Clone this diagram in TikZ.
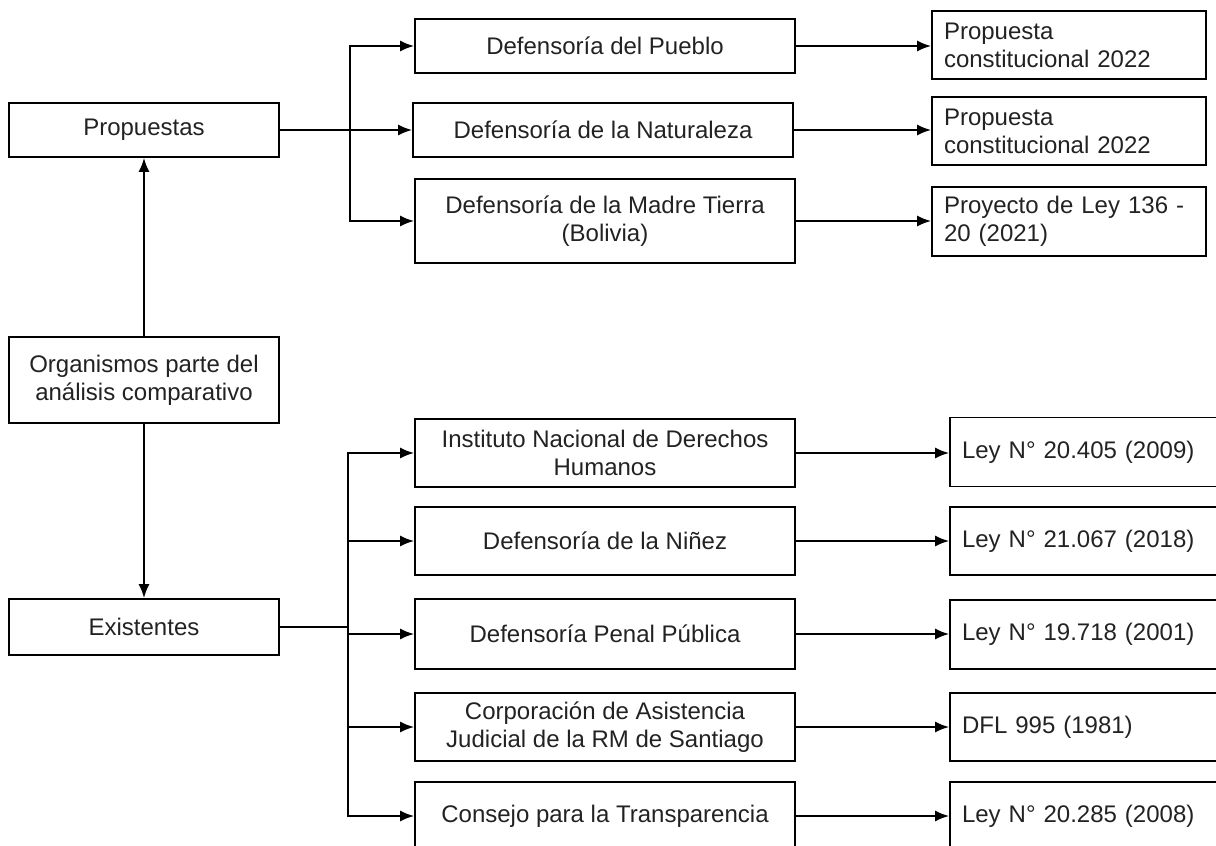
\documentclass[tikz,border=0pt]{standalone}
\usepackage{fontspec}
\setmainfont{Liberation Sans}
\usepackage{tikz}
\usetikzlibrary{arrows.meta}
\definecolor{BoxText}{HTML}{222222}

\begin{document}
\begin{tikzpicture}[x=0.5pt,y=-0.5pt,>={Latex[length=7pt,width=5.5pt]},font=\fontsize{12}{14}\selectfont]
\tikzstyle{block}=[rectangle,draw=black,line width=0.9pt,text=BoxText,align=center,inner sep=0pt]
\tikzstyle{side}=[block,minimum width=135pt]
\tikzstyle{item}=[block,minimum width=190pt]
\tikzstyle{norma}=[rectangle,draw=black,line width=0.9pt,text=BoxText,align=left,text width=125pt,inner xsep=6pt,inner ysep=0pt]
\tikzstyle{link}=[->,line width=0.9pt]
\useasboundingbox (0,0) rectangle (1216,846);
\clip (0,0) rectangle (1216,846);
\node[side,minimum height=27pt] (prop) at (144,130) {Propuestas};
\node[side,minimum height=43pt] (org) at (144,380) {Organismos parte del\\análisis comparativo};
\node[side,minimum height=28pt] (exist) at (144,627) {Existentes};
\node[item,minimum height=27pt] (pueblo) at (605,46) {Defensoría del Pueblo};
\node[item,minimum height=27pt] (natur) at (603,130) {Defensoría de la Naturaleza};
\node[item,minimum height=42pt] (madre) at (605,221) {Defensoría de la Madre Tierra\\(Bolivia)};
\node[item,minimum height=34pt] (inst) at (605,453) {Instituto Nacional de Derechos\\Humanos};
\node[item,minimum height=34pt] (ninez) at (605,541) {Defensoría de la Niñez};
\node[item,minimum height=35pt] (penal) at (605,634) {Defensoría Penal Pública};
\node[item,minimum height=34pt] (corp) at (605,727) {Corporación de Asistencia\\Judicial de la RM de Santiago};
\node[item,minimum height=34pt] (consejo) at (605,816) {Consejo para la Transparencia};
\node[norma,minimum height=34pt] (cons1) at (1069,45) {Propuesta\\constitucional 2022};
\node[norma,minimum height=34pt] (cons2) at (1069,131) {Propuesta\\constitucional 2022};
\node[norma,minimum height=34.5pt] (pley) at (1069,221.5) {Proyecto de Ley 136 -\\20 (2021)};
\node[norma,minimum height=34.5pt] (ley1) at (1087,452) {Ley N° 20.405 (2009)};
\node[norma,minimum height=34pt] (ley2) at (1087,541) {Ley N° 21.067 (2018)};
\node[norma,minimum height=34.5pt] (ley3) at (1087,634.5) {Ley N° 19.718 (2001)};
\node[norma,minimum height=34pt] (dfl) at (1087,727) {DFL 995 (1981)};
\node[norma,minimum height=34pt] (ley4) at (1087,816) {Ley N° 20.285 (2008)};
\draw[link] (org) -- (prop);
\draw[link] (org) -- (exist);
\draw[link] (prop.east) -- ++(70,0) |- (pueblo.west);
\draw[link] (prop.east) -- (natur.west);
\draw[link] (prop.east) -- ++(70,0) |- (madre.west);
\draw[link] (exist.east) -- ++(68,0) |- (inst.west);
\draw[link] (exist.east) -- ++(68,0) |- (ninez.west);
\draw[link] (exist.east) -- ++(68,0) |- (penal.west);
\draw[link] (exist.east) -- ++(68,0) |- (corp.west);
\draw[link] (exist.east) -- ++(68,0) |- (consejo.west);
\draw[link] (pueblo.east) -- (pueblo.east -| cons1.west);
\draw[link] (natur.east) -- (natur.east -| cons2.west);
\draw[link] (madre.east) -- (madre.east -| pley.west);
\draw[link] (inst.east) -- (inst.east -| ley1.west);
\draw[link] (ninez.east) -- (ninez.east -| ley2.west);
\draw[link] (penal.east) -- (penal.east -| ley3.west);
\draw[link] (corp.east) -- (corp.east -| dfl.west);
\draw[link] (consejo.east) -- (consejo.east -| ley4.west);
\end{tikzpicture}
\end{document}
